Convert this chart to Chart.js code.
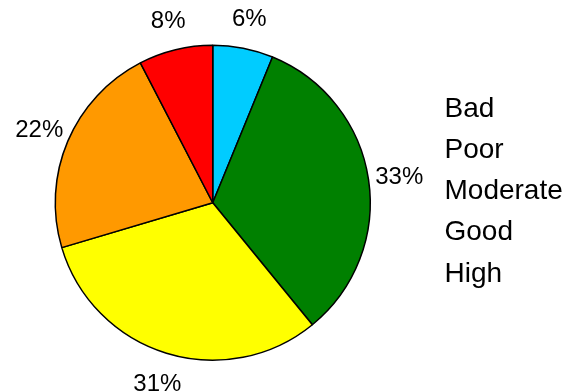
<!DOCTYPE html>
<html lang="en">
<head>
	<meta charset="UTF-8"/>
	<title>Pie</title>
	<script src="https://cdn.jsdelivr.net/npm/chart.js"></script>
	<style>
		body {
			margin: 0;
			background: #fff;
		}
		.wrap {
			width: 569px;
			height: 392px;
			position: relative;
		}
	</style>
</head>
<body>
<div class="wrap"><canvas id="myChart"></canvas></div>

<script>
	// slices clockwise from 12 o'clock
	const categories = ["High", "Good", "Moderate", "Poor", "Bad"];
	const shares = [6.2, 32.9, 31.3, 22.0, 7.6];
	// legend lines, top to bottom
	const legendLabels = ["Bad", "Poor", "Moderate", "Good", "High"];

	const sliceColors = ["#00ccff", "#008000", "#ffff00", "#ff9900", "#ff0000"];
	const FONT = "'Liberation Sans', Arial, sans-serif";

	const textPlugin = {
		id: "pieText",
		afterDraw(chart) {
			const ctx = chart.ctx;
			const arcs = chart.getDatasetMeta(0).data;
			const total = shares.reduce((a, b) => a + b, 0);

			// percent labels round the pie (clipped where the legend box starts)
			ctx.save();
			ctx.beginPath();
			ctx.rect(0, 0, 423, chart.height);
			ctx.clip();
			ctx.font = "24px " + FONT;
			ctx.fillStyle = "#000";
			ctx.textAlign = "center";
			ctx.textBaseline = "alphabetic";
			arcs.forEach((arc, i) => {
				const p = arc.getProps(["x", "y", "startAngle", "endAngle", "outerRadius"], true);
				const mid = (p.startAngle + p.endAngle) / 2;
				const r = p.outerRadius + 31;
				// baseline shifted so the digits sit centred on the anchor
				ctx.fillText(Math.round(shares[i] / total * 100) + "%", p.x + Math.cos(mid) * r, p.y + Math.sin(mid) * r + 8.5);
			});
			ctx.restore();

			// text-only legend
			ctx.save();
			ctx.font = "28px " + FONT;
			ctx.fillStyle = "#000";
			ctx.textAlign = "left";
			ctx.textBaseline = "alphabetic";
			legendLabels.forEach((t, i) => ctx.fillText(t, 444.5, 116.7 + i * 41.25));
			ctx.restore();
		}
	};

	const ctx = document.getElementById("myChart").getContext("2d");
	const myChart = new Chart(ctx, {
		type: "pie",
		data: {
			labels: categories,
			datasets: [{
				data: shares,
				backgroundColor: sliceColors,
				borderColor: "#000",
				borderWidth: 1.5,
				hoverOffset: 0
			}]
		},
		options: {
			responsive: true,
			maintainAspectRatio: false,
			animation: false,
			layout: {
				padding: { left: 54.5, top: 44.5, right: 198, bottom: 31 }
			},
			plugins: {
				legend: { display: false },
				tooltip: { enabled: false }
			}
		},
		plugins: [textPlugin]
	});
</script>
</body>
</html>
